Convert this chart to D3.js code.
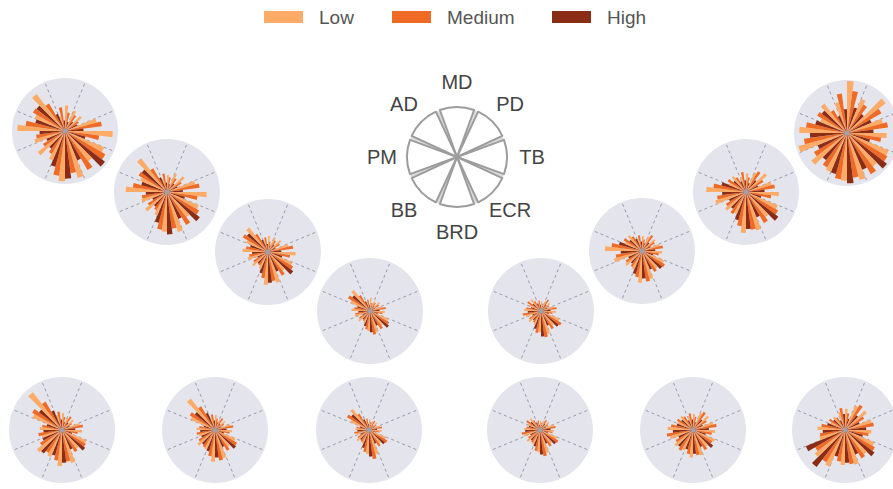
<!DOCTYPE html>
<html>
<head>
<meta charset="utf-8">
<script src="https://cdn.jsdelivr.net/npm/d3@7"></script>
<style>
  html, body { margin: 0; padding: 0; background: #ffffff; }
  svg { display: block; font-family: "Liberation Sans", Arial, sans-serif; }
</style>
</head>
<body>
<svg id="chart" width="893" height="489"></svg>
<script>
// Eight directions, clockwise from the top
const sectors = ["MD", "PD", "TB", "ECR", "BRD", "BB", "PM", "AD"];
const levels = ["Low", "Medium", "High"];
const levelColors = ["#fdab67", "#ef6a24", "#8a2c16"];

// Rose placement: an arc of eight across the top, a row of six below
const rosePositions = [
  [65, 131], [167, 192], [268, 252], [370, 311],
  [541, 311], [642, 251], [746, 192], [847, 133],
  [62, 430], [215, 430], [369, 430], [540, 430], [693, 430], [845, 430]
];

// Bar lengths (0-100) per rose; each row holds two bars per direction:
// [MD1, MD2, PD1, PD2, TB1, TB2, ECR1, ECR2, BRD1, BRD2, BB1, BB2, PM1, PM2, AD1, AD2]
const low = [
  [30,48,42,40,62,90,80,72,92,95,60,65,60,90,62,88],
  [25,32,38,42,55,75,65,60,78,75,48,52,50,78,55,80],
  [22,30,30,32,40,52,50,45,60,62,35,38,40,48,45,58],
  [18,25,20,24,25,28,38,35,42,38,25,28,30,35,40,50],
  [15,18,20,22,25,28,38,35,45,40,28,30,30,32,25,28],
  [25,28,30,32,35,38,45,42,55,60,38,40,55,70,35,38],
  [30,35,40,50,50,62,65,60,75,77,45,50,60,75,35,38],
  [60,98,70,92,70,75,85,80,92,90,80,85,95,90,55,70],
  [30,32,25,28,35,38,50,45,65,68,55,60,40,42,60,90],
  [25,28,22,25,30,32,42,40,55,60,40,42,32,35,50,75],
  [18,20,18,20,22,24,35,32,48,45,28,30,25,26,38,50],
  [15,18,20,22,28,26,35,32,45,42,30,32,32,30,25,28],
  [28,30,35,38,40,42,45,40,50,52,42,44,45,48,32,34],
  [35,40,50,52,52,50,60,58,68,66,75,72,50,52,30,32]
];
const medium = [
  [45,35,35,30,70,65,88,85,80,85,50,48,55,75,70,60],
  [35,28,30,32,62,58,70,72,70,72,40,42,48,65,62,52],
  [28,20,25,26,48,42,55,52,55,50,30,32,36,42,55,40],
  [22,15,18,20,30,24,42,40,45,35,22,24,28,30,48,35],
  [20,14,25,18,30,22,45,40,50,42,25,26,35,28,30,22],
  [30,22,35,28,40,32,50,46,58,50,35,36,50,58,40,32],
  [38,28,45,38,55,48,70,68,72,65,48,44,55,62,40,32],
  [75,80,62,75,78,65,88,90,85,88,75,72,82,78,65,50],
  [35,25,30,22,40,30,52,48,60,58,50,48,45,38,65,62],
  [30,22,26,20,35,28,48,45,58,50,38,36,35,30,55,52],
  [22,15,20,16,25,20,40,36,55,42,26,25,28,24,48,36],
  [18,14,22,18,30,24,40,36,50,40,28,26,35,26,30,22],
  [32,25,40,30,45,36,42,44,48,46,45,38,50,42,35,30],
  [42,32,55,42,55,45,65,62,65,60,70,65,48,45,35,28]
];
const high = [
  [20,18,22,25,35,40,95,60,90,70,42,38,48,58,68,35],
  [18,15,20,22,30,35,78,55,80,60,35,30,40,50,60,30],
  [15,12,18,15,25,28,60,40,58,42,28,22,30,35,50,25],
  [12,10,12,10,18,15,45,30,40,30,20,15,22,25,42,20],
  [12,10,15,12,18,15,42,30,48,35,22,18,25,20,20,15],
  [18,15,20,18,25,22,48,38,52,45,30,28,40,45,30,25],
  [22,18,28,25,35,30,77,52,70,55,40,35,45,48,30,22],
  [45,50,45,50,50,45,95,75,95,80,65,60,70,62,60,35],
  [20,15,18,15,25,20,55,40,62,50,56,40,35,30,55,40],
  [18,15,15,12,22,18,50,35,52,42,35,28,28,22,48,35],
  [12,10,12,10,15,12,38,28,50,35,24,18,22,18,42,22],
  [10,10,14,12,20,15,38,28,46,32,25,20,28,22,22,15],
  [20,15,25,20,30,25,48,35,45,38,40,30,38,32,28,20],
  [30,22,35,30,40,35,70,50,62,52,88,80,42,35,28,20]
];
const levelValues = [low, medium, high];

const svg = d3.select("#chart");
const roseRadius = 53;
const sectorSpan = (2 * Math.PI) / sectors.length;
const barsPerSector = 6;
const barSpan = sectorSpan / barsPerSector;

const rScale = d3.scaleLinear().domain([0, 100]).range([0, roseRadius]);
const colorScale = d3.scaleOrdinal().domain(levels).range(levelColors);

// Flatten one rose into bars: per direction, two groups of Low/Medium/High
function roseBars(ci) {
  const bars = [];
  sectors.forEach((s, si) => {
    for (let g = 0; g < 2; g++) {
      levels.forEach((lv, li) => {
        const k = g * 3 + li;
        const start = si * sectorSpan - sectorSpan / 2 + k * barSpan;
        bars.push({
          sector: s,
          level: lv,
          value: levelValues[li][ci][si * 2 + g],
          startAngle: start,
          endAngle: start + barSpan
        });
      });
    }
  });
  return bars;
}

const barArc = d3.arc()
  .innerRadius(0)
  .outerRadius(d => rScale(d.value))
  .startAngle(d => d.startAngle)
  .endAngle(d => d.endAngle);

const roses = svg.selectAll("g.rose")
  .data(rosePositions)
  .join("g")
  .attr("class", "rose")
  .attr("transform", d => `translate(${d[0]},${d[1]})`);

roses.append("circle")
  .attr("r", roseRadius)
  .attr("fill", "#e4e4ed");

// Dashed boundaries between directions
const boundaryAngles = d3.range(sectors.length).map(i => i * sectorSpan + sectorSpan / 2);
roses.selectAll("line.boundary")
  .data(boundaryAngles)
  .join("line")
  .attr("class", "boundary")
  .attr("x1", 0).attr("y1", 0)
  .attr("x2", a => roseRadius * Math.sin(a))
  .attr("y2", a => -roseRadius * Math.cos(a))
  .attr("stroke", "#9a9aa6")
  .attr("stroke-width", 1)
  .attr("stroke-dasharray", "3,3");

roses.each(function(_, ci) {
  d3.select(this).selectAll("path.bar")
    .data(roseBars(ci))
    .join("path")
    .attr("class", "bar")
    .attr("d", barArc)
    .attr("fill", d => colorScale(d.level));
});

roses.append("circle")
  .attr("r", 2.5)
  .attr("fill", "#a0a0a8");

// Direction key in the middle
const keyCenter = [457, 157];
const keyRadius = 50;
const key = svg.append("g").attr("transform", `translate(${keyCenter[0]},${keyCenter[1]})`);
key.append("circle").attr("r", keyRadius).attr("fill", "#dcdcdc");
const keyPad = (5 * Math.PI) / 180;
const keyArc = d3.arc()
  .innerRadius(0)
  .outerRadius(keyRadius)
  .startAngle((d, i) => i * sectorSpan - sectorSpan / 2 + keyPad / 2)
  .endAngle((d, i) => i * sectorSpan + sectorSpan / 2 - keyPad / 2);
key.selectAll("path.keywedge")
  .data(sectors)
  .join("path")
  .attr("class", "keywedge")
  .attr("d", keyArc)
  .attr("fill", "#ffffff")
  .attr("stroke", "#9c9c9c")
  .attr("stroke-width", 2)
  .attr("stroke-linejoin", "round");
key.append("circle").attr("r", 2).attr("fill", "#9c9c9c");
const labelRadius = 75;
key.selectAll("text.keylabel")
  .data(sectors)
  .join("text")
  .attr("class", "keylabel")
  .attr("x", (d, i) => labelRadius * Math.sin(i * sectorSpan))
  .attr("y", (d, i) => -labelRadius * Math.cos(i * sectorSpan))
  .attr("text-anchor", "middle")
  .attr("dominant-baseline", "central")
  .attr("font-size", 20)
  .attr("fill", "#444444")
  .text(d => d);

// Legend
const legendX = [264, 392, 552];
const legend = svg.append("g");
const items = legend.selectAll("g.item")
  .data(levels)
  .join("g")
  .attr("class", "item")
  .attr("transform", (d, i) => `translate(${legendX[i]},11)`);
items.append("rect")
  .attr("width", 39)
  .attr("height", 12)
  .attr("fill", d => colorScale(d));
items.append("text")
  .attr("x", 55)
  .attr("y", 6)
  .attr("dominant-baseline", "central")
  .attr("font-size", 19)
  .attr("fill", "#555555")
  .text(d => d);
</script>
</body>
</html>
